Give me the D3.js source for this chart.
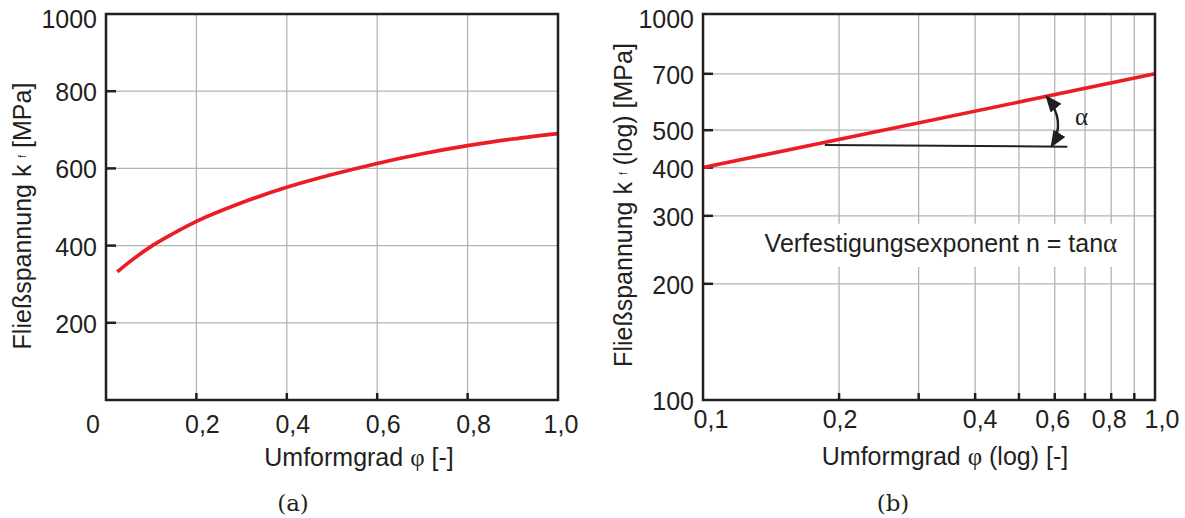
<!DOCTYPE html>
<meta charset="utf-8">
<style>
body { margin: 0; background: #fff; }
svg { font-family: "Liberation Sans", Arial, sans-serif; }
.grid line { stroke: #b4b4b4; stroke-width: 1.3px; }
.frame { fill: none; stroke: #231f20; stroke-width: 2.5px; }
.tick-in { stroke: #231f20; stroke-width: 2.5px; }
.label { font-size: 25px; fill: #231f20; }
.greek { font-family: "Liberation Serif", "DejaVu Serif", serif; }
.curve { fill: none; stroke: #ed1c24; stroke-width: 3.6px; }
.caption { font-family: "DejaVu Serif", serif; font-size: 23px; fill: #231f20; }
</style>
<body>
<script src="https://d3js.org/d3.v7.min.js"></script>
<script>
// (a) linear diagram
var phiA = [0.025, 0.05, 0.1, 0.15, 0.2, 0.3, 0.4, 0.5, 0.6, 0.7, 0.8, 0.9, 1.0];
var kfA  = [332, 356, 398, 432, 463, 511, 551, 584, 613, 638, 659, 676, 690];
var xTicksA = [0, 0.2, 0.4, 0.6, 0.8, 1.0];
var yTicksA = [200, 400, 600, 800, 1000];

// (b) log-log diagram
var phiB = [0.1, 1.0];
var kfB  = [400, 700];
var refPhi = [0.186, 0.64];   // horizontal reference line under the slope
var refKf  = [458, 453];
var xGridB = [0.2, 0.3, 0.4, 0.5, 0.6, 0.7, 0.8, 0.9];
var xLabelsB = [0.1, 0.2, 0.4, 0.6, 0.8, 1.0];
var yGridB = [200, 300, 400, 500, 700];
var yLabelsB = [100, 200, 300, 400, 500, 700, 1000];

var W = 1185, H = 518;
var plotTop = 14, plotBottom = 400;
var fmt = function(v) { return d3.format(".1f")(v).replace(".", ","); };

var svg = d3.select("body").append("svg")
    .attr("width", W)
    .attr("height", H);

svg.append("defs").append("marker")
    .attr("id", "arrow")
    .attr("viewBox", "0 0 10 10")
    .attr("refX", 9).attr("refY", 5)
    .attr("markerUnits", "userSpaceOnUse")
    .attr("markerWidth", 17).attr("markerHeight", 14)
    .attr("preserveAspectRatio", "none")
    .attr("orient", "auto-start-reverse")
  .append("path")
    .attr("d", "M0,0L10,5L0,10z")
    .attr("fill", "#231f20");

// ---------- panel (a) ----------
var xA = d3.scaleLinear().domain([0, 1]).range([106, 558]);
var yA = d3.scaleLinear().domain([0, 1000]).range([plotBottom, plotTop]);

var gA = svg.append("g");
var gridA = gA.append("g").attr("class", "grid");
gridA.selectAll(".v").data(xTicksA.slice(1, -1)).enter().append("line")
    .attr("x1", xA).attr("x2", xA).attr("y1", plotTop).attr("y2", plotBottom);
gridA.selectAll(".h").data(yTicksA.slice(0, -1)).enter().append("line")
    .attr("x1", xA(0)).attr("x2", xA(1)).attr("y1", yA).attr("y2", yA);

gA.selectAll(".tx").data(xTicksA.slice(1, -1)).enter().append("line")
    .attr("class", "tick-in")
    .attr("x1", xA).attr("x2", xA).attr("y1", plotBottom).attr("y2", plotBottom - 7);
gA.selectAll(".ty").data(yTicksA.slice(0, -1)).enter().append("line")
    .attr("class", "tick-in")
    .attr("x1", xA(0)).attr("x2", xA(0) + 10).attr("y1", yA).attr("y2", yA);

var line = d3.line().curve(d3.curveCatmullRom);
gA.append("path")
    .attr("class", "curve")
    .attr("d", line(phiA.map(function(p, i) { return [xA(p), yA(kfA[i])]; })));

gA.append("rect").attr("class", "frame")
    .attr("x", xA(0)).attr("y", plotTop)
    .attr("width", xA(1) - xA(0)).attr("height", plotBottom - plotTop);

gA.selectAll(".xl").data(xTicksA).enter().append("text")
    .attr("class", "label")
    .attr("text-anchor", "middle")
    .attr("x", function(d) { return xA(d) + (d === 0 ? -13 : d === 1 ? 3 : 6); })
    .attr("y", 433)
    .text(function(d) { return d === 0 ? "0" : fmt(d); });
gA.selectAll(".yl").data(yTicksA).enter().append("text")
    .attr("class", "label")
    .attr("text-anchor", "end")
    .attr("x", 97)
    .attr("y", function(d) { return Math.max(yA(d) + 10, 28); })
    .text(function(d) { return d; });

var tA = gA.append("text").attr("class", "label")
    .attr("text-anchor", "middle")
    .attr("transform", "translate(31,216) rotate(-90)");
tA.append("tspan").text("Fließspannung k ");
tA.append("tspan").attr("font-size", 10).attr("dy", -5).text("f");
tA.append("tspan").attr("dy", 5).text(" [MPa]");

var xtA = gA.append("text").attr("class", "label")
    .attr("text-anchor", "middle").attr("x", 359).attr("y", 466);
xtA.append("tspan").text("Umformgrad ");
xtA.append("tspan").attr("class", "greek").text("φ");
xtA.append("tspan").text(" [-]");

gA.append("text").attr("class", "caption")
    .attr("text-anchor", "middle").attr("x", 293).attr("y", 511).text("(a)");

// ---------- panel (b) ----------
var xB = d3.scaleLog().domain([0.1, 1]).range([703, 1155]);
var yB = d3.scaleLog().domain([100, 1000]).range([plotBottom, plotTop]);

var gB = svg.append("g");
var gridB = gB.append("g").attr("class", "grid");
gridB.selectAll(".v").data(xGridB).enter().append("line")
    .attr("x1", xB).attr("x2", xB).attr("y1", plotTop).attr("y2", plotBottom);
gridB.selectAll(".h").data(yGridB).enter().append("line")
    .attr("x1", xB(0.1)).attr("x2", xB(1)).attr("y1", yB).attr("y2", yB);

gB.selectAll(".tx").data(xGridB).enter().append("line")
    .attr("class", "tick-in")
    .attr("x1", xB).attr("x2", xB).attr("y1", plotBottom).attr("y2", plotBottom - 7);
gB.selectAll(".ty").data(yGridB).enter().append("line")
    .attr("class", "tick-in")
    .attr("x1", xB(0.1)).attr("x2", xB(0.1) + 10).attr("y1", yB).attr("y2", yB);

// annotation text with white box knocking out the grid
var note = gB.append("text").attr("class", "label")
    .attr("text-anchor", "middle")
    .attr("x", xB(0.336)).attr("y", yB(242));
note.append("tspan").text("Verfestigungsexponent n = tan");
note.append("tspan").attr("class", "greek").attr("font-size", 27).text("α");
var bb = note.node().getBBox();
gB.insert("rect", "text")
    .attr("fill", "#fff")
    .attr("x", bb.x - 6).attr("y", bb.y - 4)
    .attr("width", bb.width + 11).attr("height", bb.height + 13);

gB.append("path")
    .attr("class", "curve")
    .attr("d", line(phiB.map(function(p, i) { return [xB(p), yB(kfB[i])]; })));

gB.append("path")
    .attr("fill", "none").attr("stroke", "#231f20").attr("stroke-width", 2)
    .attr("d", d3.line()(refPhi.map(function(p, i) { return [xB(p), yB(refKf[i])]; })));

// angle arc between red line and reference line
var pTop = [xB(0.575), yB(Math.pow(10, Math.log10(400) + (Math.log10(0.575) + 1) * Math.log10(700 / 400)))];
var pBot = [xB(0.59), yB(454)];
var ctrl = [(pTop[0] + pBot[0]) / 2 + 18, (pTop[1] + pBot[1]) / 2];
gB.append("path")
    .attr("fill", "none").attr("stroke", "#231f20").attr("stroke-width", 2.4)
    .attr("marker-start", "url(#arrow)").attr("marker-end", "url(#arrow)")
    .attr("d", "M" + pTop + "Q" + ctrl + " " + pBot);
gB.append("text").attr("class", "label greek")
    .attr("font-size", 28)
    .attr("x", xB(0.665)).attr("y", yB(516)).text("α");

gB.append("rect").attr("class", "frame")
    .attr("x", xB(0.1)).attr("y", plotTop)
    .attr("width", xB(1) - xB(0.1)).attr("height", plotBottom - plotTop);

var dxB = {0.1: 8, 0.2: 1, 0.4: 5, 0.6: -2, 0.8: -2, 1: 7};
gB.selectAll(".xl").data(xLabelsB).enter().append("text")
    .attr("class", "label")
    .attr("text-anchor", "middle")
    .attr("x", function(d) { return xB(d) + dxB[d]; })
    .attr("y", 428)
    .text(fmt);
gB.selectAll(".yl").data(yLabelsB).enter().append("text")
    .attr("class", "label")
    .attr("text-anchor", "end")
    .attr("x", 694)
    .attr("y", function(d) { return Math.max(yB(d) + 10, 28); })
    .text(function(d) { return d; });

var tB = gB.append("text").attr("class", "label")
    .attr("text-anchor", "middle")
    .attr("transform", "translate(632,205) rotate(-90)");
tB.append("tspan").text("Fließspannung k ");
tB.append("tspan").attr("font-size", 10).attr("dy", -5).text("f");
tB.append("tspan").attr("dy", 5).text(" (log) [MPa]");

var xtB = gB.append("text").attr("class", "label")
    .attr("text-anchor", "middle").attr("x", 945).attr("y", 465);
xtB.append("tspan").text("Umformgrad ");
xtB.append("tspan").attr("class", "greek").text("φ");
xtB.append("tspan").text(" (log) [-]");

gB.append("text").attr("class", "caption")
    .attr("text-anchor", "middle").attr("x", 893).attr("y", 511).text("(b)");
</script>
